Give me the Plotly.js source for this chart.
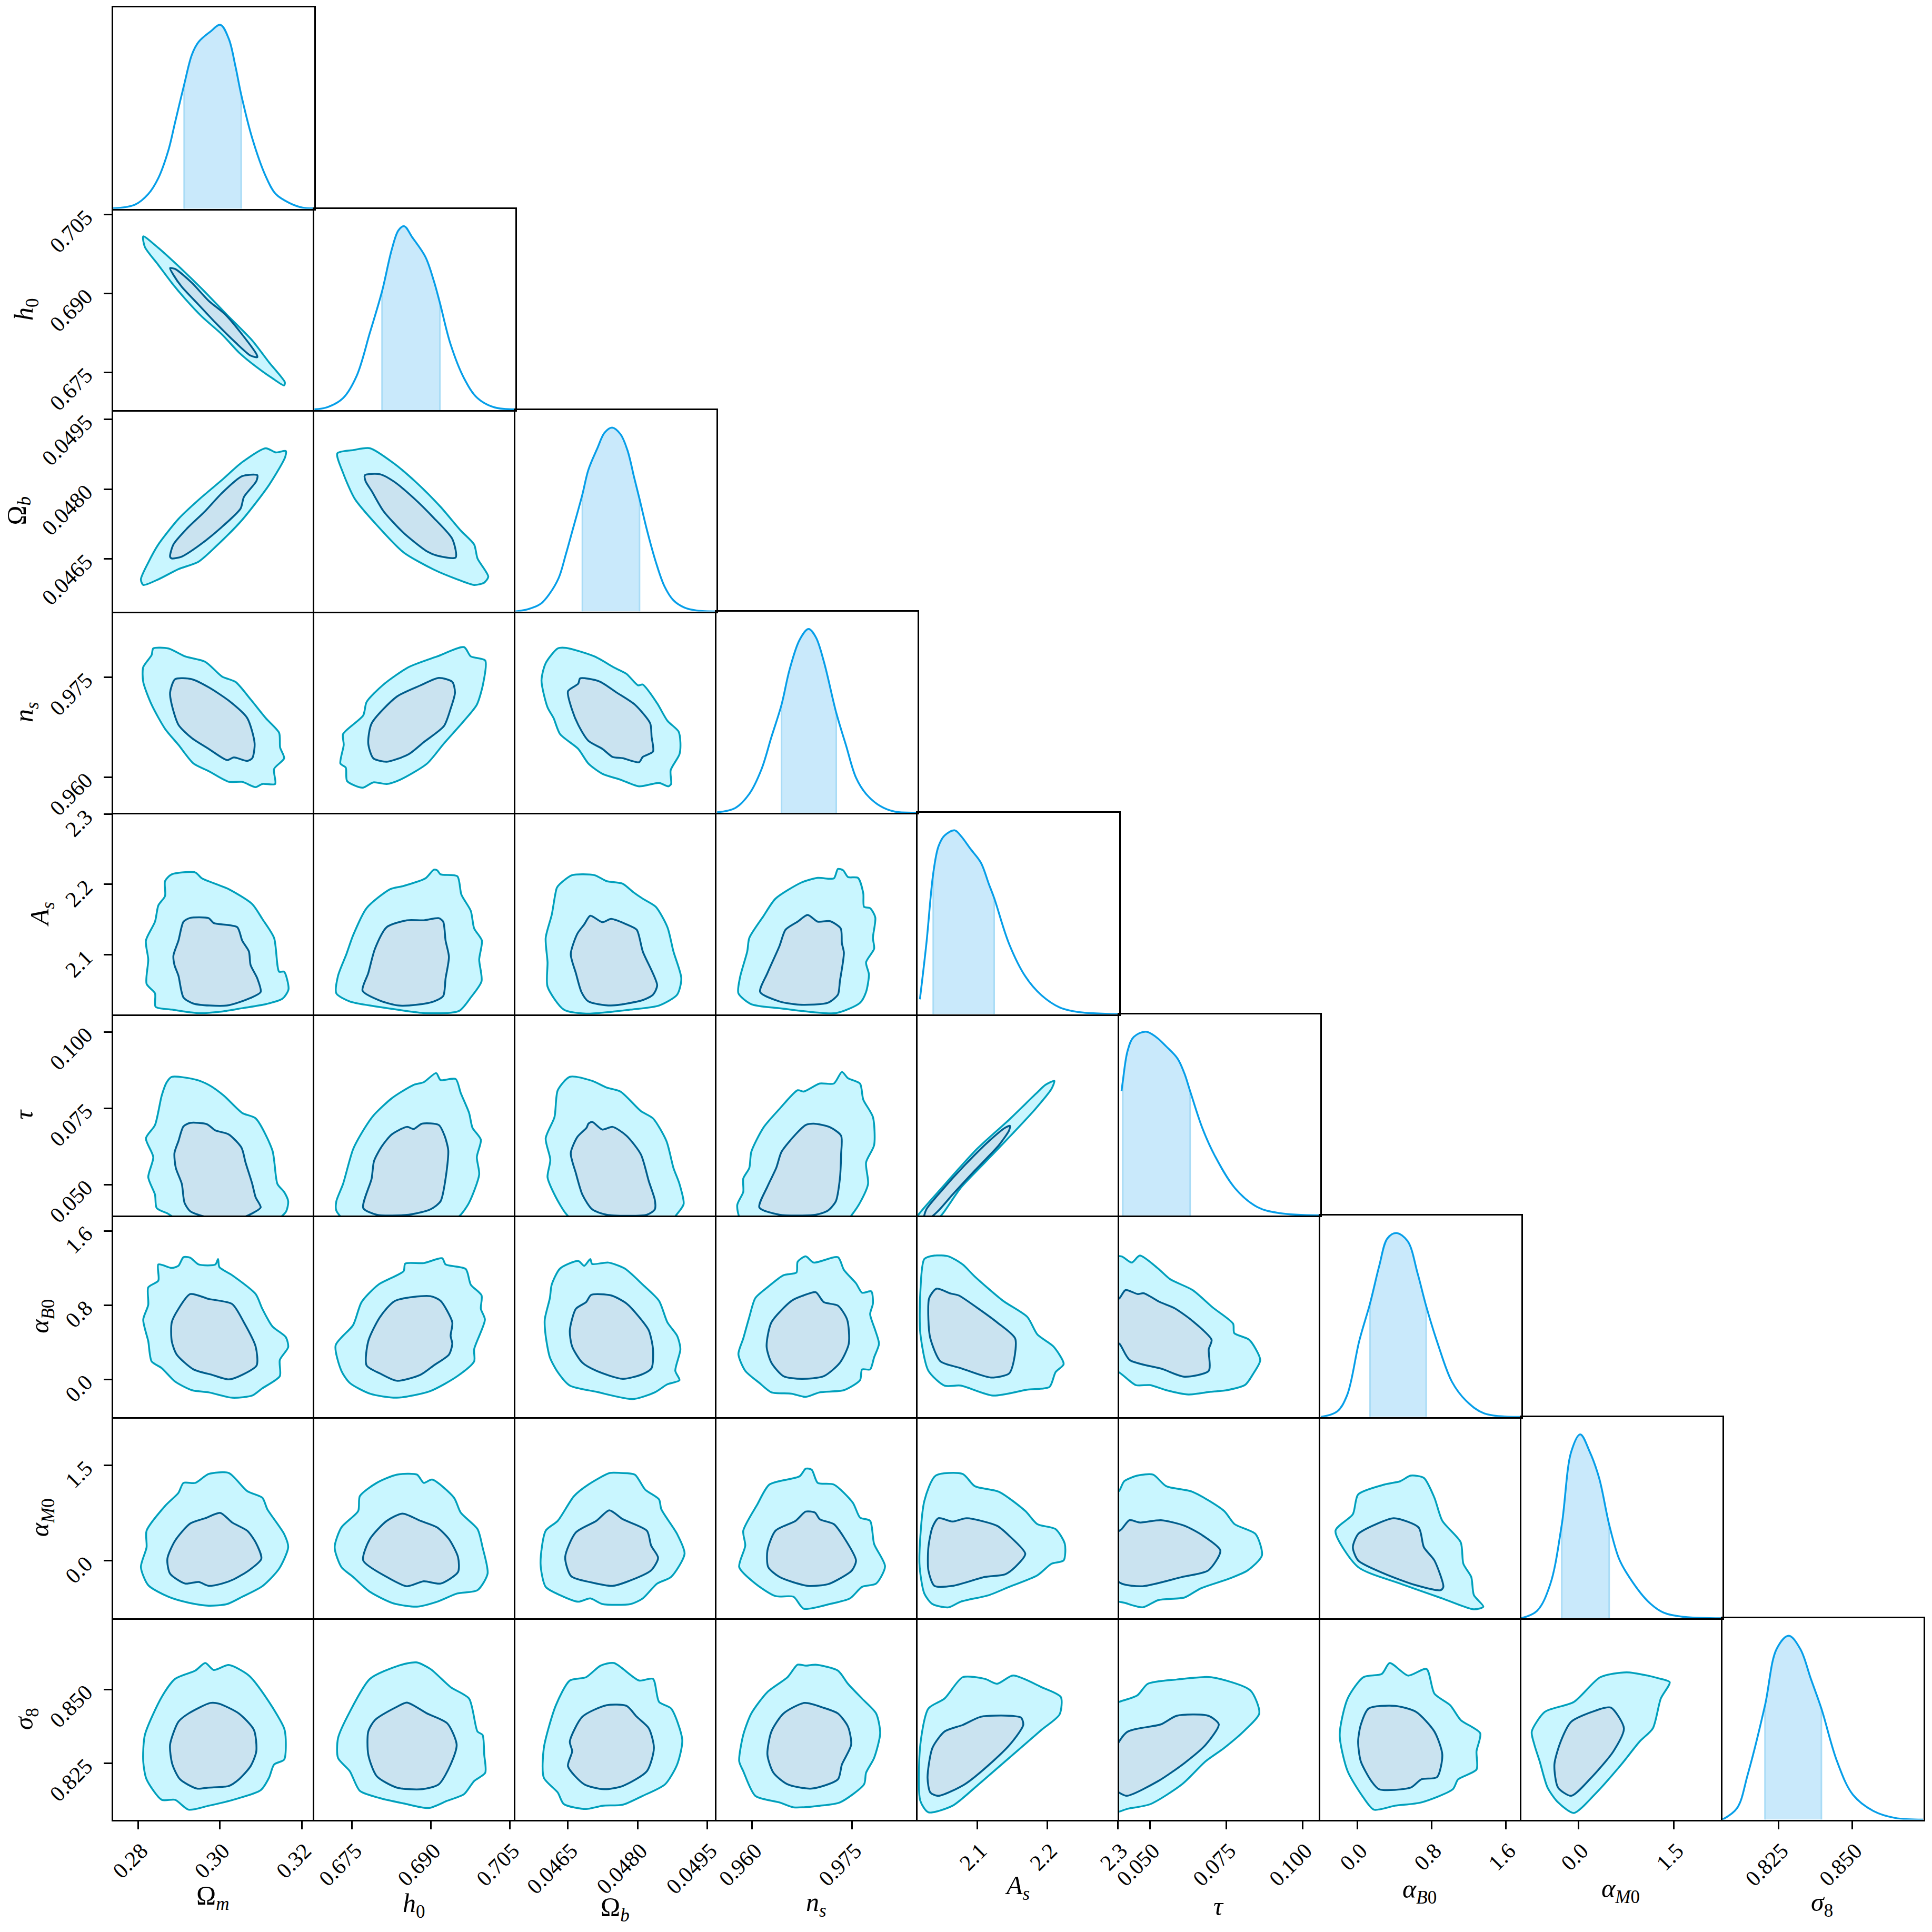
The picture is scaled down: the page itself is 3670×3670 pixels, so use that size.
<!DOCTYPE html>
<html>
<head>
<meta charset="utf-8">
<script src="https://cdn.plot.ly/plotly-3.0.1.min.js"></script>
<style>body { margin: 0; background: #fff; }</style>
</head>
<body>
<div id="plot"></div>
<script>
// parameters, axis ranges and ticks
const labels = ['Ω<sub><i>m</i></sub>', '<i>h</i><sub>0</sub>', 'Ω<sub><i>b</i></sub>', '<i>n</i><sub><i>s</i></sub>', '<i>A</i><sub><i>s</i></sub>', '<i>τ</i>', '<i>α</i><sub><i>B</i>0</sub>', '<i>α</i><sub><i>M</i>0</sub>', '<i>σ</i><sub>8</sub>'];
const ranges = [[.27388, .3231], [.6678, .7061], [.04537, .0497], [.95467, .98489], [2.0154, 2.3017], [.03983, .1058], [-.4045, 1.7645], [-.9033, 2.2624], [.8059, .8741]];
const tickVals = [[.28, .30, .32], [.675, .690, .705], [.0465, .0480, .0495], [.960, .975], [2.1, 2.2, 2.3], [.050, .075, .100], [0, .8, 1.6], [0, 1.5], [.825, .850]];
const tickText = [['0.28', '0.30', '0.32'], ['0.675', '0.690', '0.705'], ['0.0465', '0.0480', '0.0495'], ['0.960', '0.975'], ['2.1', '2.2', '2.3'], ['0.050', '0.075', '0.100'], ['0.0', '0.8', '1.6'], ['0.0', '1.5'], ['0.825', '0.850']];

// marginals: x, relative density, 68% band limits
const Om_mx = [.27388, .27918, .28246, .28493, .28739, .28903, .29125, .29314, .29478, .29765, .30011, .30217, .30381, .3052, .30791, .3112, .31366, .31694, .32023, .3229];
const Om_my = [.002, .022, .08, .167, .318, .47, .675, .838, .907, .963, 1, .924, .773, .621, .383, .177, .08, .032, .006, .002];
const h_mx = [.66783, .67039, .67327, .67583, .67839, .6807, .68255, .68383, .68492, .68639, .68895, .69055, .6917, .69375, .69631, .69887, .70207, .7061];
const h_my = [.004, .017, .065, .184, .422, .647, .874, .978, 1, .942, .833, .703, .584, .357, .173, .065, .015, .004];
const Ob_mx = [.04537, .04565, .04591, .0461, .0463, .04645, .0466, .04681, .04694, .04713, .04729, .04745, .04763, .04778, .04793, .04804, .0482, .04839, .04858, .04877, .049, .04927, .0497];
const Ob_my = [0, .013, .041, .095, .182, .307, .443, .636, .771, .886, .973, 1, .964, .877, .723, .612, .443, .27, .135, .061, .022, .005, 0];
const ns_mx = [.95474, .95746, .95958, .96139, .9629, .96442, .96563, .96714, .96847, .96956, .97077, .97264, .9741, .97561, .97712, .97924, .98136, .98487];
const ns_my = [.003, .026, .103, .235, .412, .588, .779, .941, 1, .956, .824, .544, .368, .191, .103, .037, .007, .001];
const As_mx = [2.0184, 2.0276, 2.0374, 2.0448, 2.0534, 2.0678, 2.0764, 2.0908, 2.1052, 2.1167, 2.1241, 2.1454, 2.1684, 2.1914, 2.2172, 2.2431, 2.3017];
const As_my = [.081, .382, .765, .912, .971, 1, .971, .897, .824, .706, .632, .382, .206, .103, .037, .012, 0];
const tau_mx = [.04069, .04109, .04269, .04468, .04867, .052, .05532, .05904, .0613, .06317, .06729, .07128, .07793, .08525, .09256, .1058];
const tau_my = [.677, .728, .897, .971, 1, .971, .92, .854, .773, .677, .471, .325, .148, .046, .013, .001];
const aB_mx = [-.3957, -.2217, -.113, .0174, .1348, .2348, .3218, .4174, .5392, .6479, .7392, .8652, 1.0174, 1.1696, 1.3653, 1.7645];
const aB_my = [0, .029, .118, .412, .618, .824, .971, 1, .956, .779, .603, .397, .191, .088, .019, 0];
const aM_mx = [-.9033, -.6547, -.4475, -.2652, -.116, .0249, .174, .3232, .4806, .6298, .7541, 1.0856, 1.3342, 1.6657, 2.2624];
const aM_my = [0, .04, .184, .509, .906, 1, .906, .762, .509, .329, .247, .094, .031, .007, 0];
const s8_mx = [.8059, .8109, .81446, .82036, .82429, .82839, .83232, .83589, .83947, .84482, .85018, .85733, .86447, .87393];
const s8_my = [0, .063, .243, .622, .928, 1, .928, .766, .604, .315, .135, .045, .009, 0];
const bandLo = [.29125, .6807, .04681, .96442, 2.0374, .04109, .1348, -.2652, .82036];
const bandHi = [.3052, .6917, .04804, .97264, 2.1241, .06317, .7392, .4806, .83947];
const marginals = [[Om_mx, Om_my], [h_mx, h_my], [Ob_mx, Ob_my], [ns_mx, ns_my], [As_mx, As_my], [tau_mx, tau_my], [aB_mx, aB_my], [aM_mx, aM_my], [s8_mx, s8_my]];

// h0 row
const h_Om_ox = [.28123, .28493, .28903, .2956, .30217, .30791, .31202, .31588, .31571, .31284, .30874, .30463, .30053, .2956, .29149, .28821, .28493, .28164];
const h_Om_oy = [.70084, .69865, .69578, .69086, .68557, .68103, .67688, .6731, .67249, .67385, .67612, .67877, .68217, .68557, .68897, .692, .6954, .6988];
const h_Om_ix = [.2878, .28903, .29314, .29724, .30135, .30545, .30898, .30915, .3075, .30381, .29888, .29478, .29067, .28862];
const h_Om_iy = [.6948, .69464, .692, .68859, .68595, .68217, .67839, .67786, .67816, .68066, .68444, .68784, .69124, .69351];

// Omega_b row
const Ob_Om_ox = [.28066, .28246, .28493, .28985, .29478, .30053, .30545, .3112, .31366, .31612, .31596, .31202, .30545, .3, .29478, .28985, .28493, .28123];
const Ob_Om_oy = [.04606, .04642, .04681, .04736, .04777, .0482, .04858, .04888, .04879, .04882, .04869, .04809, .04734, .04685, .04644, .04628, .04606, .04594];
const Ob_Om_ix = [.2878, .28862, .2919, .29642, .30053, .30545, .30915, .3089, .30586, .30504, .3, .29478, .29067, .28821];
const Ob_Om_iy = [.04655, .04681, .04715, .04753, .04792, .04828, .0483, .04817, .04783, .04758, .04715, .04678, .04655, .04651];
const Ob_h_ox = [.67218, .67519, .67839, .68287, .68735, .69183, .69567, .69823, .69887, .70092, .70015, .69823, .69503, .69055, .68479, .67967, .67551, .67327];
const Ob_h_oy = [.04877, .04884, .04888, .04856, .04813, .04762, .04711, .04681, .04651, .04612, .04599, .04594, .04606, .04627, .04664, .04723, .04779, .04835];
const Ob_h_ix = [.67743, .68031, .68287, .68671, .69055, .69407, .69471, .69119, .68927, .68479, .68095, .67871, .67756];
const Ob_h_iy = [.0483, .04832, .04817, .04781, .04738, .04693, .04653, .04657, .04666, .04706, .04753, .04796, .04817];

// n_s row
const ns_Om_ox = [.28369, .28739, .2915, .29642, .30053, .30381, .3075, .3112, .31448, .31473, .31571, .31325, .3135, .31038, .30874, .30545, .30217, .29724, .29355, .28985, .28657, .28328, .28123, .28123, .28328];
const ns_Om_oy = [.97934, .97934, .97814, .97733, .97512, .97432, .9717, .96889, .96668, .96447, .96286, .96125, .959, .959, .95852, .95932, .95932, .96093, .96206, .96487, .96728, .9709, .97432, .97653, .97834];
const ns_Om_ix = [.28903, .29314, .29724, .30217, .30668, .30849, .30791, .30668, .3034, .30176, .29724, .29314, .28985, .28821, .2878];
const ns_Om_iy = [.97472, .97472, .97351, .9715, .96889, .96507, .96286, .96246, .96298, .96258, .96427, .96587, .96788, .9709, .97271];
const ns_h_ox = [.69631, .69759, .70034, .69996, .69874, .69631, .69247, .68927, .68415, .68159, .67903, .67698, .67404, .67378, .67276, .6734, .67327, .67711, .67775, .68095, .68575, .69119];
const ns_h_oy = [.97954, .97814, .97753, .97412, .9709, .96849, .96507, .96206, .95964, .959, .95924, .95844, .95944, .96145, .96206, .96487, .96648, .96929, .9713, .97391, .97653, .97814];
const ns_h_ix = [.69151, .69407, .69458, .69375, .69247, .68863, .68575, .68159, .67903, .67807, .67871, .68351, .68799];
const ns_h_iy = [.97492, .97432, .97271, .9703, .96768, .96527, .96346, .96234, .96286, .96507, .96809, .97211, .97379];
const ns_Ob_ox = [.04628, .04646, .04707, .0475, .04776, .04801, .04811, .04842, .04864, .04888, .04892, .0489, .04871, .04872, .04866, .04846, .04803, .04763, .04724, .04694, .04672, .04633, .04619, .04606, .04593, .04602];
const ns_Ob_oy = [.97934, .97942, .97814, .97645, .97552, .97379, .97391, .9711, .96849, .96688, .96527, .96346, .96105, .959, .95864, .95916, .95864, .95964, .96053, .96206, .96427, .96648, .96889, .9705, .97452, .97713];
const ns_Ob_ix = [.04676, .04694, .0472, .04755, .04794, .04827, .0483, .04833, .04811, .04803, .04768, .04746, .04724, .04694, .04672, .04659, .0465, .04672];
const ns_Ob_iy = [.97484, .9748, .97432, .97271, .9709, .96809, .96608, .96386, .96306, .96226, .96286, .96306, .96427, .96547, .96788, .97009, .97291, .97404];

// A_s row
const As_Om_ox = [.28657, .28821, .29396, .2956, .30217, .30791, .31038, .31325, .31448, .31571, .31678, .3153, .3112, .30545, .30053, .29478, .28821, .28427, .28411, .28205, .28246, .28189, .28411, .28493, .28657];
const As_Om_oy = [2.2046, 2.2142, 2.2169, 2.2085, 2.1931, 2.1719, 2.1508, 2.1238, 2.0758, 2.0758, 2.0508, 2.0373, 2.0296, 2.0239, 2.0192, 2.0169, 2.0219, 2.0258, 2.045, 2.0585, 2.0931, 2.12, 2.1469, 2.17, 2.1835];
const As_Om_ix = [.29108, .29273, .29724, .29847, .30422, .30545, .30709, .3075, .30915, .30997, .3075, .30176, .29355, .29108, .28985, .28887, .28862, .28985];
const As_Om_iy = [2.1469, 2.1523, 2.1519, 2.145, 2.1392, 2.12, 2.1046, 2.0854, 2.0662, 2.0469, 2.0385, 2.0277, 2.0304, 2.0392, 2.07, 2.0854, 2.0988, 2.12];
const As_h_ox = [.69055, .69119, .69183, .69503, .6958, .69759, .69823, .6997, .69919, .69964, .69759, .69535, .68895, .68351, .67839, .67455, .67199, .67231, .67391, .67519, .67775, .68223, .68479, .68895];
const As_h_oy = [2.2208, 2.22, 2.2142, 2.2115, 2.1854, 2.1623, 2.1373, 2.12, 2.0931, 2.0623, 2.0392, 2.02, 2.0169, 2.0219, 2.0277, 2.0335, 2.045, 2.07, 2.1008, 2.1277, 2.1662, 2.1931, 2.1977, 2.2085];
const As_h_ix = [.69151, .69234, .69279, .69343, .69279, .69234, .69055, .68735, .68383, .68031, .67698, .67807, .67935, .68159, .68543, .68863];
const As_h_iy = [2.1519, 2.1469, 2.12, 2.0969, 2.0662, 2.0412, 2.0335, 2.0288, 2.0277, 2.0346, 2.0488, 2.0738, 2.1085, 2.1392, 2.1488, 2.1488];
const As_Ob_ox = [.04633, .04659, .04707, .04733, .04768, .0479, .04811, .04839, .04864, .04877, .04894, .04885, .04846, .04785, .04689, .04641, .04606, .04606, .04602, .04615, .04626];
const As_Ob_oy = [2.2008, 2.2131, 2.2131, 2.2046, 2.2008, 2.1892, 2.1796, 2.1681, 2.1392, 2.1046, 2.0662, 2.0431, 2.0277, 2.0219, 2.0162, 2.0219, 2.0546, 2.0892, 2.1238, 2.1565, 2.195];
const As_Ob_ix = [.04698, .04724, .04743, .04776, .04798, .04811, .04842, .04833, .04811, .04742, .04694, .04679, .04667, .04656, .0467, .04685];
const As_Ob_iy = [2.1554, 2.1462, 2.1508, 2.1431, 2.1354, 2.1046, 2.0565, 2.0431, 2.0354, 2.0277, 2.0335, 2.0469, 2.0738, 2.1008, 2.1296, 2.1431];
const As_ns_ox = [.97289, .97367, .9744, .97591, .9767, .97682, .97773, .97851, .97815, .97833, .97712, .97755, .97712, .97621, .97258, .96411, .95988, .95794, .95819, .95927, .95958, .96169, .96351, .96744, .96986, .97228];
const As_ns_oy = [2.2219, 2.22, 2.2104, 2.2092, 2.1873, 2.1681, 2.1662, 2.1527, 2.1238, 2.1085, 2.0892, 2.0719, 2.0469, 2.0315, 2.0169, 2.0239, 2.0296, 2.045, 2.0681, 2.1046, 2.1238, 2.1546, 2.1796, 2.2027, 2.2092, 2.2085];
const As_ns_ix = [.96835, .96986, .97168, .97331, .97349, .97379, .97319, .97289, .97137, .96714, .96411, .96121, .9623, .96411, .96502, .96684];
const As_ns_iy = [2.1565, 2.1469, 2.1477, 2.1373, 2.1162, 2.1027, 2.0623, 2.0431, 2.0315, 2.0288, 2.0335, 2.0469, 2.0738, 2.1123, 2.1354, 2.1469];

// tau row
const tau_Om_ox = [.28698, .28821, .29396, .29724, .30094, .30545, .30874, .31284, .31407, .31571, .3167, .31612, .31202, .2915, .28739, .28452, .28411, .28246, .28369, .28189, .28411, .28575];
const tau_Om_oy = [.08351, .08527, .08439, .08264, .07913, .07343, .07167, .06115, .05019, .04755, .04449, .04098, .03703, .03703, .04036, .0423, .04668, .05238, .05896, .0651, .06948, .07913];
const tau_Om_ix = [.29108, .29273, .29683, .29888, .30217, .30529, .30627, .30791, .30874, .30997, .30791, .30545, .29724, .29273, .29133, .29067, .2892, .28887, .28985];
const tau_Om_iy = [.06904, .07018, .06974, .06773, .06641, .06203, .0572, .05019, .0458, .04247, .04054, .03922, .03922, .04124, .04405, .05019, .05545, .06027, .06422];
const tau_h_ox = [.691, .69183, .69471, .69567, .69727, .69791, .69951, .69874, .69919, .69727, .69567, .69311, .67455, .67199, .67199, .67327, .67519, .67743, .67903, .68255, .68671, .68863];
const tau_h_oy = [.0865, .08421, .08456, .08, .07343, .0686, .06466, .05896, .05326, .04405, .0401, .03703, .03703, .04142, .04449, .05019, .06159, .0686, .07255, .07825, .08264, .08351];
const tau_h_ix = [.69151, .6926, .6933, .69279, .69183, .68991, .68575, .67967, .67711, .67871, .67916, .68063, .68255, .68543, .68671, .68831];
const tau_h_iy = [.06948, .06597, .06115, .05194, .04449, .04186, .0401, .0401, .0423, .05194, .05764, .06246, .06641, .06887, .06817, .06992];
const tau_Ob_ox = [.04654, .04702, .04733, .04763, .04807, .04833, .04862, .04877, .0489, .04899, .04885, .04864, .04672, .04646, .04624, .04606, .04612, .04602, .04621, .04628];
const tau_Ob_oy = [.08527, .08395, .08176, .08044, .07404, .07167, .06422, .05545, .05019, .04361, .04036, .03703, .03703, .04036, .0458, .05238, .05808, .0651, .07211, .08088];
const tau_Ob_ix = [.04694, .04702, .04724, .04746, .04776, .04807, .04824, .04837, .04837, .0482, .04733, .04702, .04681, .04667, .04656, .0467, .0469];
const tau_Ob_iy = [.06992, .07053, .06799, .06887, .06597, .05983, .05106, .04492, .04186, .0401, .0401, .04186, .04668, .0537, .06027, .06553, .0686];
const tau_ns_ox = [.97349, .9744, .97621, .9767, .97815, .97833, .97712, .97742, .97621, .975, .97379, .95867, .95776, .95867, .95867, .95958, .95988, .96169, .96411, .96684, .96774, .97016, .97228];
const tau_ns_oy = [.08685, .08483, .08307, .07781, .07211, .0629, .0572, .05019, .04405, .0401, .03703, .03703, .04317, .04755, .05194, .05545, .06071, .0686, .07474, .08088, .08044, .08307, .08307];
const tau_ns_ix = [.96926, .97168, .97337, .97337, .97319, .97258, .97137, .96956, .96411, .96109, .9623, .96363, .96442, .96653, .96805];
const tau_ns_iy = [.06992, .06878, .06597, .05983, .05194, .04449, .04142, .0401, .0401, .04247, .04931, .05545, .06071, .06641, .06948];
const tau_As_ox = [2.2098, 2.2057, 2.1828, 2.1511, 2.1109, 2.0764, 2.0506, 2.0362, 2.0075, 2.0178, 2.0477, 2.0994, 2.1454, 2.1828, 2.1971];
const tau_As_oy = [.08395, .08132, .07474, .06685, .0572, .04887, .04036, .03703, .03703, .04054, .04843, .06159, .07123, .07957, .08264];
const tau_As_ix = [2.1466, 2.1454, 2.131, 2.0966, 2.0649, 2.0448, 2.0333, 2.0247, 2.0276, 2.0477, 2.0822, 2.1167, 2.1397];
const tau_As_iy = [.06922, .06773, .06291, .05457, .04668, .04142, .03922, .03922, .04186, .04755, .05632, .06422, .0686];

// alpha_B0 row
const aB_Om_ox = [.28493, .28821, .28985, .29108, .29273, .29478, .29888, .29954, .29987, .30299, .30874, .31038, .31284, .31612, .3167, .31465, .31465, .31038, .30791, .30299, .29724, .29314, .28903, .28575, .28328, .28246, .28123, .28246, .28246, .28493];
const aB_Om_oy = [1.2375, 1.1998, 1.223, 1.3158, 1.31, 1.2375, 1.2375, 1.2955, 1.2085, 1.1215, .9185, .759, .5705, .4545, .3472, .208, .034, -.0965, -.1748, -.198, -.14, -.1168, -.024, .121, .1935, .411, .643, .8025, .991, 1.0635];
const aB_Om_ix = [.29273, .29724, .30299, .30586, .30874, .30898, .30545, .30217, .29806, .29355, .28944, .28821, .28821, .28985];
const aB_Om_iy = [.9185, .8663, .8112, .614, .353, .15, .0485, -.0008, .0485, .1065, .266, .411, .614, .759];
const aB_h_ox = [.68511, .68863, .69215, .69279, .69663, .69759, .69964, .69951, .70028, .69823, .69823, .69503, .68991, .68351, .67839, .67455, .67295, .67186, .67519, .67679, .67999, .68479];
const aB_h_oy = [1.2462, 1.252, 1.3042, 1.2375, 1.1882, 1.02, .904, .759, .643, .324, .1935, .034, -.1255, -.198, -.1545, -.0385, .092, .3675, .585, .8315, 1.02, 1.165];
const aB_h_ix = [.68991, .69183, .69407, .69375, .69407, .69343, .69055, .68799, .68351, .68031, .67775, .67807, .68031, .68319];
const aB_h_iy = [.8953, .846, .614, .469, .382, .266, .15, .0485, -.0153, .063, .15, .411, .672, .846];
const aB_Ob_ox = [.04633, .04672, .04685, .04698, .04702, .04737, .04772, .04811, .04846, .04864, .04885, .04892, .04881, .0489, .04864, .04837, .0479, .04711, .04654, .04628, .04611, .04602, .046, .04611, .04615];
const aB_Ob_oy = [1.194, 1.2752, 1.223, 1.2955, 1.2433, 1.2578, 1.194, 1.02, .846, .614, .469, .324, .092, -.0095, -.053, -.14, -.2125, -.1342, -.0675, .0775, .237, .469, .643, .875, 1.02];
const aB_Ob_ix = [.047, .04743, .04776, .04803, .04824, .04833, .0483, .04811, .04768, .04711, .04681, .04659, .04654, .04667, .04689];
const aB_Ob_iy = [.9098, .904, .817, .672, .527, .324, .121, .0572, .005, .092, .179, .353, .527, .759, .8315];
const aB_ns_ox = [.96805, .96926, .97289, .97379, .97561, .97652, .97791, .97815, .97773, .97851, .97906, .97833, .97773, .97652, .97621, .97379, .97016, .96805, .96593, .9629, .96109, .95897, .95794, .95867, .95958, .96048, .9623, .96472, .96666, .96684];
const aB_ns_oy = [1.3245, 1.2578, 1.3158, 1.1795, 1.0345, .933, .9475, .817, .701, .527, .382, .237, .1065, .1065, -.0095, -.1168, -.14, -.1893, -.1545, -.14, -.0385, .092, .2718, .44, .672, .875, .991, 1.1215, 1.1505, 1.2665];
const aB_ns_ix = [.96956, .97077, .97289, .97428, .97452, .97319, .97077, .96744, .96472, .9629, .96218, .9629, .96593, .96774];
const aB_ns_iy = [.9388, .8315, .7938, .643, .382, .179, .034, .005, .034, .179, .353, .614, .846, .904];
const aB_As_ox = [2.0247, 2.0391, 2.0592, 2.0793, 2.0966, 2.1368, 2.1713, 2.1856, 2.2086, 2.223, 2.2115, 2.2029, 2.1713, 2.1224, 2.0764, 2.0534, 2.0305, 2.019, 2.019];
const aB_As_oy = [1.2955, 1.3332, 1.3245, 1.2375, 1.107, .846, .672, .4835, .353, .1645, .0775, -.082, -.111, -.1748, -.0675, -.0675, .092, .498, .933];
const aB_As_ix = [2.042, 2.0621, 2.0736, 2.0994, 2.1282, 2.154, 2.1523, 2.1454, 2.1195, 2.0764, 2.0477, 2.0333, 2.0305, 2.0316];
const aB_As_iy = [.9765, .9243, .904, .7735, .614, .44, .208, .063, .0195, .121, .1935, .44, .643, .875];
const aB_tau_ox = [.04069, .04402, .04668, .05266, .05665, .06397, .07062, .07727, .07766, .08259, .08618, .08392, .08126, .07527, .06995, .06264, .05532, .05, .04535, .03976, .03737, .03737];
const aB_tau_oy = [1.3245, 1.2578, 1.3332, 1.194, 1.078, .962, .7735, .5995, .498, .4255, .208, .063, -.0588, -.1168, -.1342, -.1632, -.1168, -.0617, -.0617, .0775, .092, 1.31];
const aB_tau_ix = [.04202, .04601, .048, .05333, .05798, .06397, .07022, .06929, .06929, .0613, .05399, .04335, .04003, .03737, .03737, .04003];
const aB_tau_iy = [.962, .9185, .9272, .8315, .7677, .6285, .4255, .324, .092, .0282, .1123, .208, .382, .44, .817, .875];

// alpha_M0 row
const aM_Om_ox = [.29108, .29396, .29724, .30217, .30668, .31038, .31161, .31571, .3167, .31448, .31038, .30545, .30176, .29724, .29232, .28739, .28246, .28066, .28205, .28205, .28657, .28985];
const aM_Om_oy = [1.2248, 1.2248, 1.365, 1.3805, 1.0951, .9913, .8096, .4204, .2128, -.1246, -.3996, -.5657, -.6799, -.7058, -.6591, -.5657, -.3841, -.0986, .2128, .4723, .8615, 1.0691];
const aM_Om_ix = [.30011, .30299, .30668, .30874, .31013, .30709, .3034, .30053, .29724, .29478, .2915, .2878, .28714, .28903, .29273, .29642];
const aM_Om_iy = [.7526, .602, .4723, .2906, .0311, -.1505, -.2906, -.3581, -.3944, -.3322, -.3581, -.2024, .0311, .3166, .5865, .6695];
const aM_h_ox = [.67967, .68351, .68735, .68863, .69023, .6944, .69567, .69887, .69983, .70079, .69887, .69503, .69119, .68735, .68287, .67839, .67519, .67295, .67167, .67295, .67615, .67647];
const aM_h_oy = [1.2248, 1.3546, 1.3546, 1.2248, 1.2767, .9913, .7577, .4982, .2128, -.2024, -.4619, -.5138, -.6436, -.7214, -.6695, -.4879, -.2543, -.0986, .2128, .5242, .7837, 1.0172];
const aM_h_ix = [.6846, .68799, .69119, .69343, .69516, .69516, .69183, .68863, .68543, .68159, .67711, .67839, .68159];
const aM_h_iy = [.7422, .628, .5242, .3425, .0571, -.1765, -.3581, -.3218, -.3996, -.2543, .0052, .3425, .628];
const aM_Ob_ox = [.0474, .04763, .04794, .04816, .04846, .04851, .04885, .04901, .04872, .04842, .04811, .04785, .04724, .04698, .04672, .04633, .04602, .04591, .04602, .04628, .04663, .04694];
const aM_Ob_oy = [1.3805, 1.3805, 1.3546, 1.121, .9653, .8096, .4204, .109, -.2543, -.3581, -.5917, -.6799, -.6799, -.5917, -.6436, -.5398, -.41, -.0467, .4723, .628, 1.0172, 1.1989];
const aM_Ob_ix = [.04739, .04768, .0482, .04829, .04844, .04829, .04776, .04746, .04702, .04657, .04644, .04667, .04711];
const aM_Ob_iy = [.7941, .6539, .4723, .2387, .0467, -.1505, -.3322, -.3944, -.3426, -.2439, .0571, .4463, .628];
const aM_ns_ox = [.96805, .96895, .96986, .97228, .97513, .97621, .97773, .97833, .97997, .97863, .97652, .9747, .97168, .96774, .96623, .96351, .96048, .95806, .95897, .95867, .96079, .9626, .96714];
const aM_ns_oy = [1.448, 1.4325, 1.2248, 1.1989, .9134, .6799, .628, .2647, -.0882, -.3581, -.41, -.5917, -.6799, -.7526, -.5657, -.5553, -.3581, -.0986, .2387, .4723, .8875, 1.1989, 1.3286];
const aM_ns_ix = [.96805, .96944, .97016, .97228, .97379, .97561, .975, .97289, .97137, .96835, .96411, .96242, .9623, .96351, .96653];
const aM_ns_iy = [.7733, .7577, .6539, .5761, .3685, .0052, -.1505, -.2958, -.3685, -.3944, -.2543, -.0986, .1609, .4723, .628];
const aM_As_ox = [2.0408, 2.0793, 2.0966, 2.131, 2.1684, 2.1856, 2.2115, 2.2247, 2.223, 2.2057, 2.1856, 2.1454, 2.1167, 2.0764, 2.0592, 2.0362, 2.0247, 2.0178, 2.0247];
const aM_As_oy = [1.339, 1.365, 1.1729, 1.0847, .7837, .5761, .4982, .2647, .0052, -.0467, -.2284, -.41, -.5398, -.6436, -.7318, -.6799, -.5138, -.0467, .9394];
const aM_As_ix = [2.0448, 2.0649, 2.0851, 2.1282, 2.1454, 2.1684, 2.154, 2.1397, 2.1109, 2.0649, 2.0391, 2.0305, 2.0305, 2.0362];
const aM_As_iy = [.6695, .6176, .6695, .5501, .3944, .109, -.0986, -.2128, -.2543, -.3944, -.3944, -.1505, .2128, .5242];
const aM_tau_ox = [.04155, .04586, .05103, .05534, .06396, .07431, .07776, .08465, .08672, .08207, .07603, .06655, .06138, .05276, .04759, .04155, .03983, .03724, .03724, .03983];
const aM_tau_oy = [1.2508, 1.339, 1.3546, 1.1729, 1.0847, .7837, .5761, .4204, .083, -.1505, -.2803, -.436, -.5761, -.6176, -.7318, -.6591, -.6436, -.6176, 1.0432, 1.0951];
const aM_tau_ix = [.04328, .04672, .05362, .06138, .06741, .0731, .06914, .06052, .04759, .04069, .03724, .03724, .04069];
const aM_tau_iy = [.6384, .602, .6384, .5501, .3944, .1609, -.1505, -.2543, -.3996, -.3581, -.2024, .3685, .4982];
const aM_aB_ox = [.5731, .7149, .8284, .9135, 1.1121, 1.1405, 1.2256, 1.254, 1.3561, 1.254, .9135, .4596, .0057, -.2383, -.0511, .0057, .2894, .4596];
const aM_aB_oy = [1.339, 1.3027, .9913, .628, .2906, -.0467, -.2543, -.5398, -.7214, -.7629, -.5917, -.3581, -.0986, .4723, .7318, 1.0432, 1.1989, 1.2508];
const aM_aB_ix = [.3915, .6582, .7149, .8284, .9249, .8965, .6298, .2894, .0057, -.0511, .0057, .1759];
const aM_aB_iy = [.6695, .5242, .2128, .0052, -.41, -.4619, -.3841, -.2024, .0052, .2128, .4204, .5605];

// sigma_8 row
const s8_Om_ox = [.29642, .29847, .30217, .30709, .31202, .31571, .31612, .31571, .31325, .31202, .30997, .30381, .29724, .29232, .28903, .28575, .28205, .28123, .28164, .28575, .28903, .29396];
const s8_Om_oy = [.85893, .85658, .85826, .85469, .84576, .83683, .83237, .82623, .82456, .82009, .81585, .81284, .8106, .80927, .81261, .81261, .81953, .82567, .8346, .84743, .85357, .85636];
const s8_Om_ix = [.29765, .2997, .30463, .30832, .3089, .3075, .30463, .30217, .29724, .29437, .29026, .28837, .2878, .28985, .29232];
const s8_Om_iy = [.84542, .8452, .84185, .83627, .82902, .824, .81953, .8173, .81674, .81641, .81953, .82456, .83125, .83906, .84185];
const s8_h_ox = [.68722, .68991, .69375, .69727, .69887, .69983, .70015, .70034, .69823, .69631, .69311, .68959, .68479, .68031, .67647, .67455, .67231, .67231, .67455, .67839, .68383];
const s8_h_oy = [.85915, .85692, .85078, .84688, .83572, .8346, .8279, .82176, .81898, .81451, .81228, .80982, .81139, .81317, .81563, .82232, .82679, .83348, .84241, .85357, .85804];
const s8_h_ix = [.68543, .68927, .69311, .6949, .69375, .69151, .68831, .68351, .67967, .67807, .67807, .67935, .68351];
const s8_h_iy = [.84554, .84185, .83851, .83125, .82456, .81786, .81619, .81674, .82065, .8279, .83572, .83962, .84409];
const s8_Ob_ox = [.04749, .04803, .04833, .04846, .04872, .04896, .04885, .04859, .04811, .04768, .04724, .04689, .04641, .04628, .04598, .04598, .04624, .04654, .04689, .0472];
const s8_Ob_oy = [.85893, .85301, .85357, .84576, .84353, .83293, .82456, .81786, .81395, .81094, .8106, .80949, .81116, .81507, .82009, .83014, .84464, .85301, .85413, .85804];
const s8_Ob_ix = [.04733, .04776, .04798, .04824, .04835, .0482, .04768, .04728, .04685, .0465, .04659, .04654, .04681];
const s8_Ob_iy = [.84464, .84442, .84074, .83683, .83014, .82232, .8173, .81619, .81786, .824, .82902, .83237, .84074];
const s8_ns_ox = [.96684, .96805, .96956, .97289, .9744, .97652, .97863, .97924, .97833, .97712, .97682, .97319, .97016, .96623, .96411, .96048, .95867, .95806, .95867, .95988, .9623, .96532];
const s8_ns_oy = [.85837, .85804, .85837, .85636, .8519, .84688, .84185, .83516, .82679, .82176, .81786, .81172, .8106, .81005, .81172, .81395, .82232, .82567, .8346, .84185, .84911, .85413];
const s8_ns_ix = [.96787, .97077, .97289, .9744, .97488, .97349, .97289, .96895, .96532, .96321, .9623, .9629, .96472];
const s8_ns_iy = [.84542, .84375, .84185, .83739, .83125, .82456, .81953, .81641, .81786, .82176, .8279, .83572, .84185];
const s8_As_ox = [2.0793, 2.1109, 2.1282, 2.1511, 2.1914, 2.219, 2.2172, 2.1914, 2.1454, 2.0994, 2.0649, 2.0305, 2.019, 2.019, 2.0305, 2.0534];
const s8_As_oy = [.85413, .85357, .8519, .85469, .85078, .84743, .84152, .83627, .82679, .8173, .8106, .80837, .81228, .83125, .84353, .84688];
const s8_As_ix = [2.1052, 2.1454, 2.1626, 2.1655, 2.1483, 2.1224, 2.0822, 2.0448, 2.0333, 2.0293, 2.0362, 2.0534, 2.0793];
const s8_As_iy = [.84074, .84107, .8404, .83795, .83181, .82567, .81786, .81395, .81507, .82009, .83014, .83572, .83795];
const s8_tau_ox = [.04931, .05879, .07, .08293, .08586, .0812, .07431, .06827, .06052, .05017, .04241, .03983, .03724, .03724, .03983, .04586];
const s8_tau_oy = [.8519, .85335, .85413, .84967, .84185, .83627, .83014, .82567, .81786, .81116, .80949, .8086, .80837, .84464, .84576, .84799];
const s8_tau_ix = [.05879, .06914, .07258, .06827, .06138, .05276, .04241, .03983, .03724, .03724, .04241, .05362];
const s8_tau_iy = [.84107, .84107, .83817, .83125, .82511, .81898, .81395, .81507, .81674, .82679, .83549, .83817];
const s8_aB_ox = [.3461, .5447, .7433, .8284, .9986, 1.1121, 1.322, 1.2823, 1.2823, 1.0837, 1.027, .6866, .4028, .1759, .0624, -.1078, -.1929, -.1078, .0624, .261];
const s8_aB_oy = [.85893, .85469, .85692, .84855, .84464, .83962, .83516, .82902, .82288, .81953, .81619, .81172, .8106, .80927, .81339, .82232, .8346, .84688, .85413, .85525];
const s8_aB_ix = [.1192, .4028, .6298, .8284, .9135, .8568, .6866, .5731, .2326, .1475, .034, .0057, .034];
const s8_aB_iy = [.84353, .84442, .84241, .83572, .8279, .82031, .81953, .81674, .81619, .81898, .82567, .83237, .83795];
const s8_aM_ox = [.3398, .7541, 1.0856, 1.2513, 1.4337, 1.2928, 1.1685, .9613, .6712, .2569, -.0746, -.3232, -.4889, -.6132, -.6961, -.7375, -.5304, -.0746];
const s8_aM_oy = [.85413, .8558, .85469, .85379, .85246, .84688, .83683, .83237, .82456, .81451, .80815, .81172, .81674, .82567, .83125, .83572, .84241, .84576];
const s8_aM_ix = [.5055, .7127, .5469, .174, -.116, -.3232, -.3812, -.2818, -.116, .2569];
const s8_aM_iy = [.84386, .83683, .82902, .81953, .81395, .81674, .82456, .83237, .83906, .84275];

// row, column, outer contour, inner contour
const panels = [
    [1, 0, h_Om_ox, h_Om_oy, h_Om_ix, h_Om_iy],
    [2, 0, Ob_Om_ox, Ob_Om_oy, Ob_Om_ix, Ob_Om_iy], [2, 1, Ob_h_ox, Ob_h_oy, Ob_h_ix, Ob_h_iy],
    [3, 0, ns_Om_ox, ns_Om_oy, ns_Om_ix, ns_Om_iy], [3, 1, ns_h_ox, ns_h_oy, ns_h_ix, ns_h_iy], [3, 2, ns_Ob_ox, ns_Ob_oy, ns_Ob_ix, ns_Ob_iy],
    [4, 0, As_Om_ox, As_Om_oy, As_Om_ix, As_Om_iy], [4, 1, As_h_ox, As_h_oy, As_h_ix, As_h_iy], [4, 2, As_Ob_ox, As_Ob_oy, As_Ob_ix, As_Ob_iy], [4, 3, As_ns_ox, As_ns_oy, As_ns_ix, As_ns_iy],
    [5, 0, tau_Om_ox, tau_Om_oy, tau_Om_ix, tau_Om_iy], [5, 1, tau_h_ox, tau_h_oy, tau_h_ix, tau_h_iy], [5, 2, tau_Ob_ox, tau_Ob_oy, tau_Ob_ix, tau_Ob_iy], [5, 3, tau_ns_ox, tau_ns_oy, tau_ns_ix, tau_ns_iy], [5, 4, tau_As_ox, tau_As_oy, tau_As_ix, tau_As_iy],
    [6, 0, aB_Om_ox, aB_Om_oy, aB_Om_ix, aB_Om_iy], [6, 1, aB_h_ox, aB_h_oy, aB_h_ix, aB_h_iy], [6, 2, aB_Ob_ox, aB_Ob_oy, aB_Ob_ix, aB_Ob_iy], [6, 3, aB_ns_ox, aB_ns_oy, aB_ns_ix, aB_ns_iy], [6, 4, aB_As_ox, aB_As_oy, aB_As_ix, aB_As_iy], [6, 5, aB_tau_ox, aB_tau_oy, aB_tau_ix, aB_tau_iy],
    [7, 0, aM_Om_ox, aM_Om_oy, aM_Om_ix, aM_Om_iy], [7, 1, aM_h_ox, aM_h_oy, aM_h_ix, aM_h_iy], [7, 2, aM_Ob_ox, aM_Ob_oy, aM_Ob_ix, aM_Ob_iy], [7, 3, aM_ns_ox, aM_ns_oy, aM_ns_ix, aM_ns_iy], [7, 4, aM_As_ox, aM_As_oy, aM_As_ix, aM_As_iy], [7, 5, aM_tau_ox, aM_tau_oy, aM_tau_ix, aM_tau_iy], [7, 6, aM_aB_ox, aM_aB_oy, aM_aB_ix, aM_aB_iy],
    [8, 0, s8_Om_ox, s8_Om_oy, s8_Om_ix, s8_Om_iy], [8, 1, s8_h_ox, s8_h_oy, s8_h_ix, s8_h_iy], [8, 2, s8_Ob_ox, s8_Ob_oy, s8_Ob_ix, s8_Ob_iy], [8, 3, s8_ns_ox, s8_ns_oy, s8_ns_ix, s8_ns_iy], [8, 4, s8_As_ox, s8_As_oy, s8_As_ix, s8_As_iy], [8, 5, s8_tau_ox, s8_tau_oy, s8_tau_ix, s8_tau_iy], [8, 6, s8_aB_ox, s8_aB_oy, s8_aB_ix, s8_aB_iy], [8, 7, s8_aM_ox, s8_aM_oy, s8_aM_ix, s8_aM_iy]
];

const SIZE = 3670;
const FONT = '"Liberation Serif", serif';
const panelLeft = 215, cellW = 382.1, panelTop = 14, cellH = 382.5;
// x labels sit below the rotated tick text, plotly's standoff cannot go that close
const xTitleTop = [3604, 3619, 3626, 3617, 3585, 3621, 3592, 3591, 3617];

const traces = [];
const layout = {
    width: SIZE, height: SIZE, showlegend: false,
    margin: { l: 0, r: 0, t: 0, b: 0 },
    paper_bgcolor: '#fff', plot_bgcolor: 'rgba(0,0,0,0)',
    font: { family: FONT, color: '#000' },
    annotations: labels.map(function (text, i) {
        return {
            text: text, showarrow: false, xref: 'paper', yref: 'paper',
            x: (panelLeft + (i + 0.5) * cellW - 2) / SIZE, y: 1 - xTitleTop[i] / SIZE,
            xanchor: 'center', yanchor: 'middle', font: { family: FONT, size: 50 }
        };
    })
};

function addAxes(id, row, col, diag) {
    const xName = 'xaxis' + (id === 1 ? '' : id);
    const yName = 'yaxis' + (id === 1 ? '' : id);
    const xBottom = row === 8;
    const yLeft = col === 0 && !diag;
    // only diagonal cells mirror: the inner edges come from the neighbouring cell
    layout[xName] = {
        domain: [(panelLeft + col * cellW) / SIZE, (panelLeft + (col + 1) * cellW) / SIZE],
        range: ranges[col], anchor: 'y' + (id === 1 ? '' : id),
        showgrid: false, zeroline: false, showline: true, mirror: diag, linecolor: '#000', linewidth: 3,
        tickmode: 'array', tickvals: xBottom ? tickVals[col] : [], ticktext: xBottom ? tickText[col] : [],
        ticks: xBottom ? 'outside' : '', ticklen: 15, tickwidth: 3, tickcolor: '#000',
        showticklabels: xBottom, tickangle: -45, tickfont: { family: FONT, size: 42 },
        ticklabelshift: xBottom ? 6 : 0
    };
    layout[yName] = {
        domain: [1 - (panelTop + (row + 1) * cellH) / SIZE, 1 - (panelTop + row * cellH) / SIZE],
        range: diag ? [0, 1.095] : ranges[row], anchor: 'x' + (id === 1 ? '' : id),
        showgrid: false, zeroline: false, showline: true, mirror: diag, linecolor: '#000', linewidth: 3,
        tickmode: 'array', tickvals: yLeft ? tickVals[row] : [], ticktext: yLeft ? tickText[row] : [],
        ticks: yLeft ? 'outside' : '', ticklen: 15, tickwidth: 3, tickcolor: '#000',
        showticklabels: yLeft, tickangle: -45, tickfont: { family: FONT, size: 42 },
        ticklabelstandoff: yLeft ? 25 : 0,
        title: yLeft ? { text: labels[row], font: { family: FONT, size: 50 }, standoff: 7 } : undefined
    };
}

function ref(id) {
    const s = id === 1 ? '' : id;
    return { xaxis: 'x' + s, yaxis: 'y' + s };
}

function closed(arr) {
    return arr.concat([arr[0]]);
}

let axisId = 1;

// diagonal: 1D marginals with their shaded bands
marginals.forEach(function (m, i) {
    addAxes(axisId, i, i, true);
    const r = ref(axisId);
    const bx = [], by = [];
    m[0].forEach(function (v, k) {
        if (v >= bandLo[i] && v <= bandHi[i]) {
            bx.push(v);
            by.push(m[1][k]);
        }
    });
    traces.push(Object.assign({
        type: 'scatter', mode: 'lines', x: bx, y: by, fill: 'tozeroy', fillcolor: '#c9e9fb',
        line: { color: '#c9e9fb', width: 1, shape: 'spline' }, hoverinfo: 'skip'
    }, r));
    [0, by.length - 1].forEach(function (k) {
        traces.push(Object.assign({
            type: 'scatter', mode: 'lines', x: [bx[k], bx[k]], y: [0, by[k]],
            line: { color: '#a9dcf6', width: 3 }, hoverinfo: 'skip'
        }, r));
    });
    traces.push(Object.assign({
        type: 'scatter', mode: 'lines', x: m[0], y: m[1],
        line: { color: '#069ee8', width: 3.5, shape: 'spline' }, hoverinfo: 'skip'
    }, r));
    axisId++;
});

// off-diagonal: 2D contours
panels.forEach(function (p) {
    addAxes(axisId, p[0], p[1], false);
    const r = ref(axisId);
    traces.push(Object.assign({
        type: 'scatter', mode: 'lines', x: closed(p[2]), y: closed(p[3]), fill: 'toself', fillcolor: '#c9f6ff',
        line: { color: '#00a0bc', width: 3.5, shape: 'spline', smoothing: 0.7 }, hoverinfo: 'skip'
    }, r));
    traces.push(Object.assign({
        type: 'scatter', mode: 'lines', x: closed(p[4]), y: closed(p[5]), fill: 'toself', fillcolor: '#cae3f0',
        line: { color: '#005d8c', width: 3.5, shape: 'spline', smoothing: 0.7 }, hoverinfo: 'skip'
    }, r));
    axisId++;
});

document.addEventListener("DOMContentLoaded", function () {
    Plotly.newPlot('plot', traces, layout, { staticPlot: true });
});
</script>
</body>
</html>
